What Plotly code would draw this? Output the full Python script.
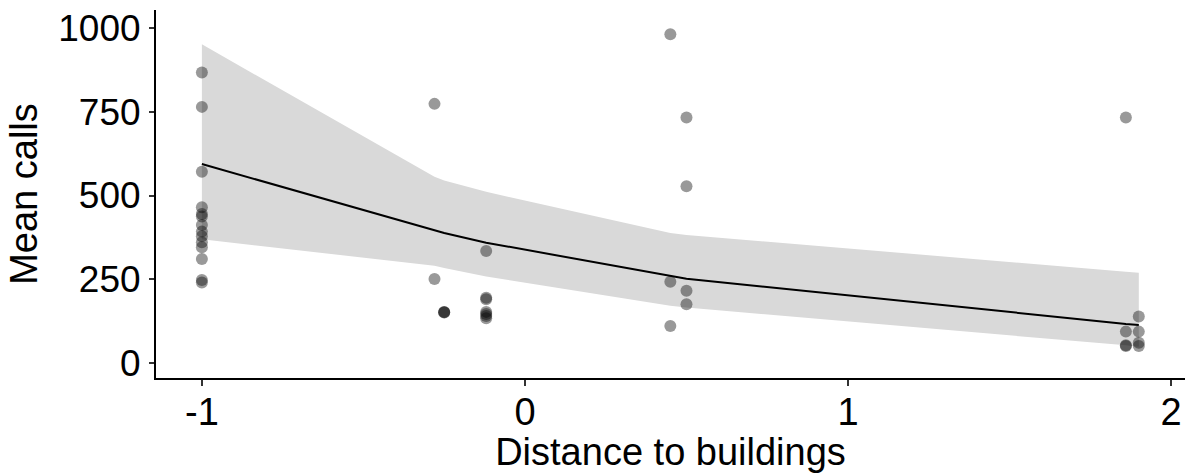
import plotly.graph_objects as go

# Observed points
pt_x = [-1, -1, -1, -1, -1, -1, -1, -1, -1, -1, -1, -1, -1, -1,
        -0.28, -0.28,
        -0.25, -0.25, -0.25,
        -0.12, -0.12, -0.12, -0.12, -0.12, -0.12, -0.12,
        0.45, 0.45, 0.45,
        0.5, 0.5, 0.5, 0.5,
        1.86, 1.86, 1.86, 1.86,
        1.9, 1.9, 1.9, 1.9]
pt_y = [868, 765, 571, 465, 445, 437, 412, 392, 378, 360, 345, 310, 247, 240,
        774, 250,
        152, 150, 151,
        334, 194, 190, 152, 146, 140, 133,
        982, 242, 110,
        733, 528, 215, 175,
        733, 93, 52, 50,
        138, 93, 60, 50]

# Fitted curve and confidence band
fit_x = [-1, -0.28, -0.25, -0.12, 0.45, 0.5, 1.86, 1.9]
fit_y = [594, 397, 388, 359, 259, 251, 116, 113]
band_hi = [952, 556, 545, 511, 388, 382, 272, 269]
band_lo = [369, 290, 283, 258, 170, 165, 52, 48]

x_ticks = [-1, 0, 1, 2]
y_ticks = [0, 250, 500, 750, 1000]

fig = go.Figure()
fig.add_trace(go.Scatter(x=fit_x + fit_x[::-1], y=band_hi + band_lo[::-1],
                         fill="toself", fillcolor="#d9d9d9", mode="none",
                         hoverinfo="skip", showlegend=False))
fig.add_trace(go.Scatter(x=fit_x, y=fit_y, mode="lines",
                         line=dict(color="black", width=2), showlegend=False))
fig.add_trace(go.Scatter(x=pt_x, y=pt_y, mode="markers",
                         marker=dict(color="rgba(0,0,0,0.4)", size=12, line=dict(width=0)),
                         showlegend=False))

font_family = "Liberation Sans, Arial, sans-serif"
fig.update_layout(
    width=1189, height=473,
    margin=dict(l=156, r=4, t=10, b=95),
    plot_bgcolor="white", paper_bgcolor="white",
    font=dict(family=font_family, color="black"),
    xaxis=dict(range=[-1.142, 2.043], tickvals=x_ticks, ticktext=[str(v) for v in x_ticks],
               showline=True, linecolor="black", linewidth=2, mirror=False,
               ticks="outside", ticklen=6, tickwidth=1.5, tickcolor="#333333",
               showgrid=False, zeroline=False, tickfont=dict(size=38, color="black"),
               automargin=False, ticklabelstandoff=-7,
               title=dict(text="Distance to buildings", font=dict(size=38, color="black"), standoff=2)),
    yaxis=dict(range=[-45.7, 1054.7], tickvals=y_ticks, ticktext=[str(v) for v in y_ticks],
               showline=True, linecolor="black", linewidth=2, mirror=False,
               ticks="outside", ticklen=5, tickwidth=1.5, tickcolor="#333333",
               showgrid=False, zeroline=False, tickfont=dict(size=37, color="black"),
               ticklabelstandoff=1, automargin=False,
               title=dict(text="Mean calls", font=dict(size=38, color="black"), standoff=9)),
)
fig.write_html("out.html", config={"displayModeBar": False},
               post_script="document.body.style.margin='0px';")
